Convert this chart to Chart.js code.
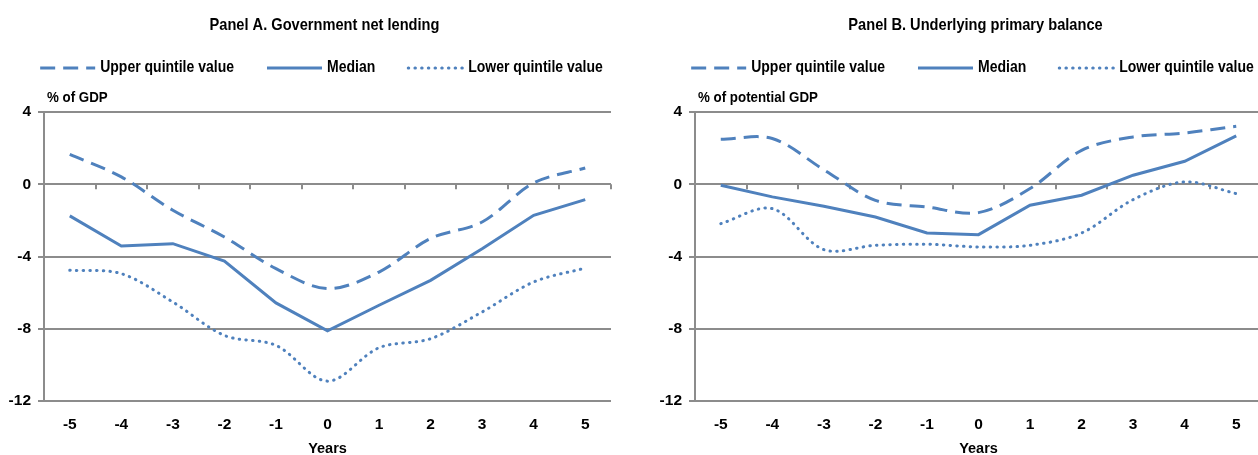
<!DOCTYPE html>
<html>
<head>
<meta charset="utf-8">
<title>Fiscal positions around year 0</title>
<script src="https://cdn.jsdelivr.net/npm/chart.js@4.4.1/dist/chart.umd.min.js"></script>
<style>
  html, body { margin: 0; padding: 0; background: #ffffff; overflow: hidden; }
  #wrap { position: relative; width: 1258px; height: 455px; overflow: hidden; }
  .panel { position: absolute; top: 0; height: 455px; }
  #panelA { left: 0; width: 629px; }
  #panelB { left: 629px; width: 634px; }
</style>
</head>
<body>
<div id="wrap">
  <div class="panel" id="panelA"><canvas id="chartA"></canvas></div>
  <div class="panel" id="panelB"><canvas id="chartB"></canvas></div>
</div>
<script>
// Years relative to the reference year
const years = ['-5', '-4', '-3', '-2', '-1', '0', '1', '2', '3', '4', '5'];
const yTickValues = [-12, -8, -4, 0, 4];
const seriesLabels = ['Upper quintile value', 'Median', 'Lower quintile value'];

// Panel A: government net lending, % of GDP
const lendingUpper  = [1.65, 0.41, -1.44, -2.92, -4.67, -5.78, -4.86, -3.00, -2.09, 0.07, 0.90];
const lendingMedian = [-1.75, -3.42, -3.29, -4.25, -6.57, -8.12, -6.70, -5.32, -3.57, -1.72, -0.85];
const lendingLower  = [-4.76, -4.95, -6.52, -8.37, -8.92, -10.90, -9.05, -8.55, -7.07, -5.41, -4.64];

// Panel B: underlying primary balance, % of potential GDP
const balanceUpper  = [2.49, 2.53, 0.80, -0.89, -1.26, -1.57, -0.24, 1.88, 2.62, 2.84, 3.21];
const balanceMedian = [-0.06, -0.70, -1.22, -1.81, -2.70, -2.79, -1.16, -0.61, 0.50, 1.27, 2.68];
const balanceLower  = [-2.18, -1.35, -3.62, -3.38, -3.32, -3.47, -3.38, -2.70, -0.85, 0.13, -0.52];

const lineBlue = '#4f81bd';
const gridGray = '#8c8c8c';
const fontFamily = '"Liberation Sans", Arial, sans-serif';
const headFont = 'bold 17px ' + fontFamily;
const legendFont = 'bold 16.3px ' + fontFamily;
const unitFont = 'bold 15.5px ' + fontFamily;
const narrow = 0.86;   // horizontal squeeze for the heading, legend and unit texts

function condensedText(ctx, text, x, y, align) {
  ctx.save();
  ctx.translate(x, y);
  ctx.scale(narrow, 1);
  ctx.textAlign = align;
  ctx.fillText(text, 0, 0);
  ctx.restore();
}

// Draws the zero-line tick marks, the panel heading, the legend row and the unit label
const panelDecor = {
  id: 'panelDecor',
  beforeDatasetsDraw(chart) {
    const { ctx, scales: { x, y } } = chart;
    const y0 = y.getPixelForValue(0);
    const step = x.getPixelForValue(1) - x.getPixelForValue(0);
    ctx.save();
    ctx.strokeStyle = gridGray;
    ctx.lineWidth = 2;
    ctx.beginPath();
    for (let i = 0; i < years.length; i++) {
      const px = Math.round(x.getPixelForValue(i) + step / 2);
      ctx.moveTo(px, y0);
      ctx.lineTo(px, y0 + 5);
    }
    ctx.stroke();
    ctx.restore();
  },
  afterDraw(chart, args, opts) {
    const { ctx, chartArea } = chart;
    const mid = (chartArea.left + chartArea.right) / 2;
    ctx.save();
    ctx.fillStyle = '#000';
    ctx.textBaseline = 'middle';

    // panel heading
    ctx.font = headFont;
    condensedText(ctx, opts.title, mid - 3, chartArea.top - 87, 'center');

    // legend row
    ctx.font = legendFont;
    const sample = 55, gapText = 5, gapItem = 33;
    const items = chart.data.datasets.map(ds => ({ ds, w: ctx.measureText(ds.label).width * narrow }));
    const total = items.reduce((s, it) => s + sample + gapText + it.w, 0) + gapItem * (items.length - 1);
    let cx = mid - 6 - total / 2;
    const ly = chartArea.top - 44;
    items.forEach(({ ds, w }) => {
      ctx.save();
      ctx.strokeStyle = ds.borderColor;
      ctx.lineWidth = ds.borderWidth;
      ctx.setLineDash(ds.borderDash || []);
      ctx.lineCap = ds.borderCapStyle || 'butt';
      ctx.beginPath();
      ctx.moveTo(cx, ly);
      ctx.lineTo(cx + sample, ly);
      ctx.stroke();
      ctx.restore();
      cx += sample + gapText;
      condensedText(ctx, ds.label, cx, ly, 'left');
      cx += w + gapItem;
    });

    // unit label above the value axis
    ctx.font = unitFont;
    condensedText(ctx, opts.unit, chartArea.left + 3, chartArea.top - 14, 'left');
    ctx.restore();
  }
};

function makePanel(canvasId, titleText, unitText, upper, median, lower, axisWidth, rightPad) {
  return new Chart(document.getElementById(canvasId), {
    type: 'line',
    data: {
      labels: years,
      datasets: [
        {
          label: seriesLabels[0], data: upper,
          borderColor: lineBlue, borderWidth: 3, borderDash: [15, 8],
          tension: 0.33, pointRadius: 0, fill: false
        },
        {
          label: seriesLabels[1], data: median,
          borderColor: lineBlue, borderWidth: 3,
          tension: 0, pointRadius: 0, fill: false
        },
        {
          label: seriesLabels[2], data: lower,
          borderColor: lineBlue, borderWidth: 3, borderDash: [0.5, 6.2], borderCapStyle: 'round',
          tension: 0.33, pointRadius: 0, fill: false
        }
      ]
    },
    options: {
      responsive: true,
      maintainAspectRatio: false,
      animation: false,
      layout: { padding: { left: 0, right: rightPad, top: 112, bottom: 0 } },
      plugins: {
        legend: { display: false },
        tooltip: { enabled: false },
        title: { display: false },
        panelDecor: { title: titleText, unit: unitText }
      },
      scales: {
        x: {
          type: 'category',
          offset: true,
          grid: { display: false, drawTicks: false },
          border: { display: false },
          ticks: {
            color: '#000',
            font: { family: fontFamily, size: 15.5, weight: 'bold' },
            padding: 14,
            maxRotation: 0,
            autoSkip: false
          },
          title: {
            display: true,
            text: 'Years',
            color: '#000',
            font: { family: fontFamily, size: 14.5, weight: 'bold', lineHeight: 1.2 },
            padding: { top: 0, bottom: -3 }
          },
          afterFit(scale) { scale.height = 54; }
        },
        y: {
          min: -12,
          max: 4,
          afterBuildTicks(scale) { scale.ticks = yTickValues.map(v => ({ value: v })); },
          grid: { color: gridGray, lineWidth: 2, drawTicks: true, tickLength: 6 },
          border: { color: gridGray, width: 2 },
          ticks: {
            color: '#000',
            font: { family: fontFamily, size: 15.5, weight: 'bold' },
            padding: 7
          },
          afterFit(scale) { scale.width = axisWidth; }
        }
      }
    },
    plugins: [panelDecor]
  });
}

makePanel('chartA', 'Panel A. Government net lending', '% of GDP',
  lendingUpper, lendingMedian, lendingLower, 44, 18);
makePanel('chartB', 'Panel B. Underlying primary balance', '% of potential GDP',
  balanceUpper, balanceMedian, balanceLower, 66, 1);
</script>
</body>
</html>
